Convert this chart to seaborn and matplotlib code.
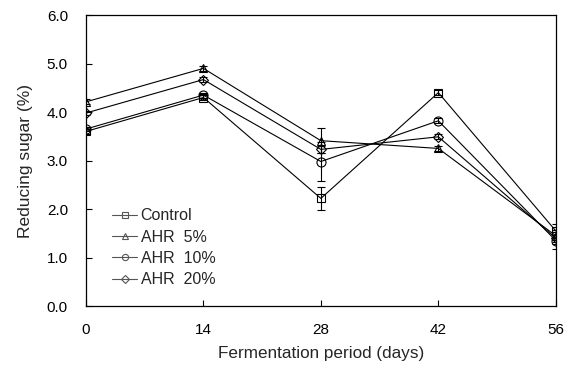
import numpy as np
import pandas as pd
import matplotlib
matplotlib.use("Agg")
import matplotlib.pyplot as plt
import seaborn as sns

days = [0, 14, 28, 42, 56]
series_names = ["Control", "AHR  5%", "AHR  10%", "AHR  20%"]
control = [3.60, 4.30, 2.22, 4.40, 1.55]
ahr5 = [4.21, 4.90, 3.41, 3.25, 1.45]
ahr10 = [3.65, 4.35, 2.98, 3.82, 1.35]
ahr20 = [3.98, 4.67, 3.23, 3.49, 1.40]
err_control = [0.05, 0.05, 0.24, 0.05, 0.15]
err_ahr5 = [0.05, 0.05, 0.26, 0.05, 0.12]
err_ahr10 = [0.05, 0.05, 0.40, 0.05, 0.18]
err_ahr20 = [0.05, 0.05, 0.08, 0.05, 0.12]

values = [control, ahr5, ahr10, ahr20]
errors = [err_control, err_ahr5, err_ahr10, err_ahr20]
markers = ["s", "^", "o", "D"]
msizes = [5.5, 6, 6.5, 5]

rows = []
for name, vals in zip(series_names, values):
    for d, v in zip(days, vals):
        rows.append({"day": d, "sugar": v, "group": name})
df = pd.DataFrame(rows)

sns.set_style("white")
plt.rcParams["font.family"] = ["Liberation Sans", "DejaVu Sans"]

fig = plt.figure(figsize=(5.73, 3.67), dpi=100)
ax = fig.add_axes([0.150, 0.166, 0.820, 0.793])

for name, vals, errs, m, ms in zip(series_names, values, errors, markers, msizes):
    sub = df[df["group"] == name]
    ax.errorbar(days, vals, yerr=errs, fmt="none", ecolor="black",
                elinewidth=0.8, capsize=3, capthick=0.8, zorder=2)
    sns.lineplot(data=sub, x="day", y="sugar", ax=ax, color="black",
                 linewidth=0.8, marker=m, markersize=ms,
                 markerfacecolor="none", markeredgecolor="black",
                 markeredgewidth=0.8, label=name, zorder=3)

ax.set_xlim(0, 56)
ax.set_ylim(0, 6)
ax.set_xticks(days)
ax.set_yticks(np.arange(0, 6.01, 1.0))
ax.set_yticklabels([f"{v:.1f}" for v in np.arange(0, 6.01, 1.0)])
ax.tick_params(axis="y", direction="in", length=4, width=0.8, labelsize=11,
               pad=13, left=True, colors="black")
ax.tick_params(axis="x", direction="in", length=4, width=0.8, labelsize=11,
               pad=12, bottom=True, colors="black")
for s in ax.spines.values():
    s.set_color("black")
    s.set_linewidth(0.9)
ax.set_xlabel("Fermentation period (days)", fontsize=12.3, labelpad=7)
ax.set_ylabel("Reducing sugar (%)", fontsize=12.5, labelpad=10)

leg = ax.legend(loc="upper left", bbox_to_anchor=(0.055, 0.336), frameon=False,
                fontsize=11.5, handlelength=1.6, handletextpad=0.2,
                labelspacing=0.4, borderaxespad=0, borderpad=0)
for h in leg.legend_handles:
    h.set_markersize(4.5)
    h.set_color("#555555")
    h.set_markeredgecolor("#555555")

fig.savefig("out.png", dpi=100)
